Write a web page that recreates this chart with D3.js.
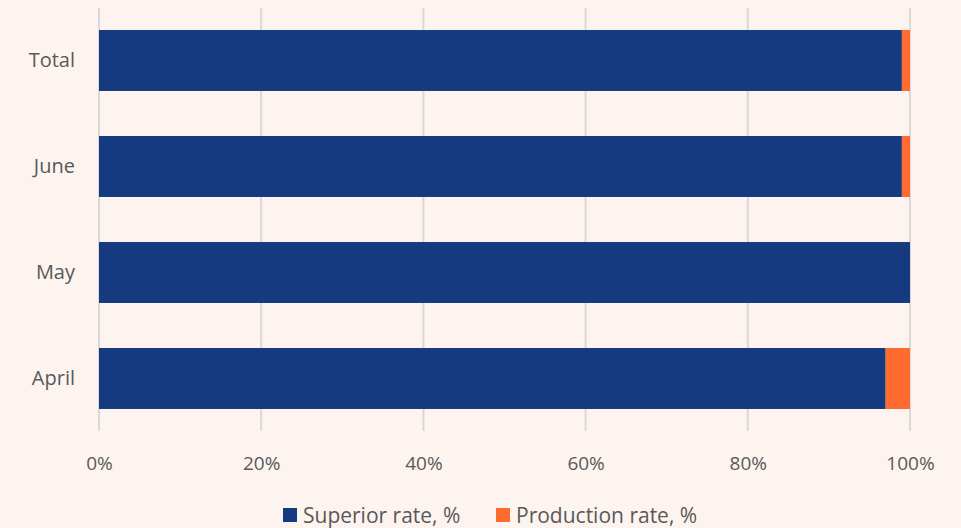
<!DOCTYPE html>
<html>
<head>
<meta charset="utf-8">
<script src="https://cdn.jsdelivr.net/npm/d3@7"></script>
<style>
  html, body { margin: 0; padding: 0; background: #fdf4ef; }
  svg { display: block; font-family: "Open Sans", Lato, sans-serif; }
</style>
</head>
<body>
<div id="chart"></div>
<script>
"use strict";

// data (top to bottom)
const categories = ["Total", "June", "May", "April"];
const superiorRate = [99, 99, 100, 97];
const productionRate = [1, 1, 0, 3];
const seriesNames = ["Superior rate, %", "Production rate, %"];
const xTicks = [0, 20, 40, 60, 80, 100];

const width = 961, height = 528;
const colors = ["#163a80", "#ff6a2e"];
const textColor = "#595959";

const svg = d3.select("#chart").append("svg")
    .attr("width", width)
    .attr("height", height);

const x = d3.scaleLinear().domain([0, 100]).range([99, 910]);
const y = d3.scaleBand().domain(categories).range([7.5, 431.5]).paddingInner(0.425).paddingOuter(0.2125);

// gridlines
svg.append("g")
    .selectAll("line")
    .data(xTicks)
    .join("line")
    .attr("x1", d => x(d)).attr("x2", d => x(d))
    .attr("y1", 8).attr("y2", 431)
    .attr("stroke", "#d9d9d9")
    .attr("stroke-width", 2);

// stacked bars
const rows = categories.map((c, i) => ({ cat: c, vals: [superiorRate[i], productionRate[i]] }));
rows.forEach(r => {
    let acc = 0;
    r.vals.forEach((v, j) => {
        if (v > 0) {
            svg.append("rect")
                .attr("x", x(acc))
                .attr("width", x(acc + v) - x(acc))
                .attr("y", y(r.cat))
                .attr("height", y.bandwidth())
                .attr("fill", colors[j]);
        }
        acc += v;
    });
});

// y labels
const yAxis = d3.axisLeft(y).tickSize(0).tickPadding(24);
const yg = svg.append("g").attr("transform", "translate(99,0)").call(yAxis);
yg.select(".domain").remove();
yg.selectAll("text").attr("fill", textColor).style("font-size", "20px")
    .style("font-family", "'Open Sans', Lato, sans-serif");

// x labels
const xAxis = d3.axisBottom(x).tickValues(xTicks).tickSize(0).tickPadding(0)
    .tickFormat(d => d + "%");
const xg = svg.append("g").attr("transform", "translate(0,456)").call(xAxis);
xg.select(".domain").remove();
xg.selectAll("text").attr("fill", textColor).style("font-size", "19px")
    .style("font-family", "'Open Sans', Lato, sans-serif");

// legend
const legend = svg.append("g").attr("transform", "translate(283,508)");
const legendX = [0, 213];
seriesNames.forEach((name, i) => {
    const g = legend.append("g").attr("transform", `translate(${legendX[i]},0)`);
    g.append("rect").attr("width", 14).attr("height", 14).attr("fill", colors[i]);
    g.append("text").attr("x", 20).attr("y", 15)
        .attr("fill", textColor)
        .style("font-size", "21px")
        .text(name);
});
</script>
</body>
</html>
